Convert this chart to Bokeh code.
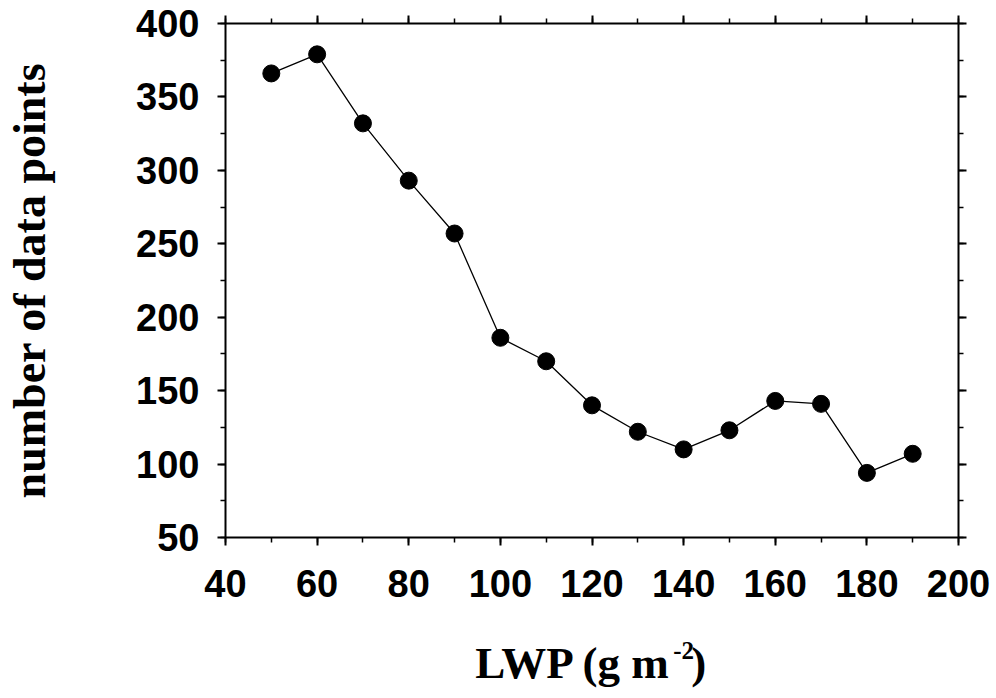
from bokeh.plotting import figure
from bokeh.models import (Range1d, LinearAxis, SingleIntervalTicker, FixedTicker,
                          CustomJSTickFormatter)
from bokeh.embed import file_html
from bokeh.resources import INLINE

# Number of data points per liquid water path bin
lwp = [50, 60, 70, 80, 90, 100, 110, 120, 130, 140, 150, 160, 170, 180, 190]
counts = [366, 379, 332, 293, 257, 186, 170, 140, 122, 110, 123, 143, 141, 94, 107]

# non-breaking spaces leave room for the exponent before the closing bracket
x_title_main = "LWP (g m\u00a0\u00a0)"
x_title_sup = "-2"
x_title_sup_pos = 140.0   # x where the exponent is centred
y_title = "number of data points"

TICK_FONT = "Liberation Sans"
TITLE_FONT = "Liberation Serif"

p = figure(
    width=996, height=698,
    x_range=Range1d(40, 200), y_range=Range1d(50, 400),
    output_backend="svg", toolbar_location=None,
    min_border_left=225, min_border_right=38,
    min_border_top=23, min_border_bottom=161,
    x_axis_location=None, y_axis_location=None,
)
p.grid.visible = False
p.outline_line_color = None
p.background_fill_color = "white"
p.border_fill_color = "white"


def style_axis(ax, interval, show_labels):
    ax.ticker = SingleIntervalTicker(interval=interval, num_minor_ticks=2)
    ax.axis_line_color = "black"
    ax.axis_line_width = 2
    ax.major_tick_line_color = "black"
    ax.major_tick_line_width = 2
    ax.minor_tick_line_color = "black"
    ax.minor_tick_line_width = 1.5
    ax.major_tick_in = 0
    ax.major_tick_out = 8
    ax.minor_tick_in = 0
    ax.minor_tick_out = 5
    if show_labels:
        ax.major_label_text_font = TICK_FONT
        ax.major_label_text_font_style = "bold"
        ax.major_label_text_font_size = "38px"
        ax.major_label_text_color = "black"
    else:
        ax.formatter = CustomJSTickFormatter(code="return ''")
        ax.major_label_text_font_size = "8px"
        ax.major_label_standoff = 0


bottom = LinearAxis()
style_axis(bottom, 20, True)
bottom.major_label_standoff = 24
left = LinearAxis()
style_axis(left, 50, True)
left.major_label_standoff = 18
left.axis_label = y_title
left.axis_label_text_font = TITLE_FONT
left.axis_label_text_font_style = "bold"
left.axis_label_text_font_size = "46px"
left.axis_label_text_color = "black"
left.axis_label_standoff = 78
top = LinearAxis()
style_axis(top, 20, False)
right = LinearAxis()
style_axis(right, 50, False)

# Bare axis that carries the x title: its single tick label is the exponent
title_axis = LinearAxis(
    ticker=FixedTicker(ticks=[x_title_sup_pos], minor_ticks=[]),
    formatter=CustomJSTickFormatter(code=f"return '{x_title_sup}'"),
    axis_line_color=None, major_tick_line_color=None, minor_tick_line_color=None,
    major_tick_in=0, major_tick_out=0, minor_tick_in=0, minor_tick_out=0,
    major_label_standoff=42,
    major_label_text_font=TITLE_FONT, major_label_text_font_style="bold",
    major_label_text_font_size="25px", major_label_text_color="black",
    axis_label=x_title_main, axis_label_standoff=-24,
    axis_label_text_font=TITLE_FONT, axis_label_text_font_style="bold",
    axis_label_text_font_size="45px", axis_label_text_color="black",
)

p.add_layout(bottom, "below")
p.add_layout(title_axis, "below")
p.add_layout(left, "left")
p.add_layout(top, "above")
p.add_layout(right, "right")

# Data series: thin connecting line with filled black circles
p.line(lwp, counts, line_color="black", line_width=1.3)
p.scatter(lwp, counts, size=17, fill_color="black", line_color="black")

open("out.html", "w").write(file_html(p, INLINE))
